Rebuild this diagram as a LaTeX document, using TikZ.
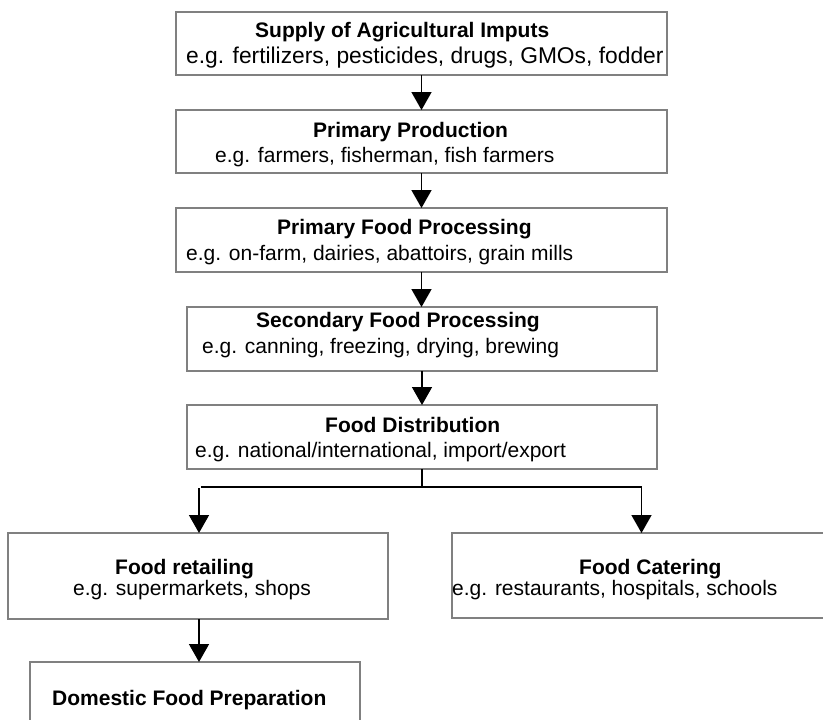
\documentclass[tikz,border=0pt]{standalone}
\usepackage{fontspec}
\setmainfont{Liberation Sans}
\usetikzlibrary{arrows.meta}
\definecolor{bordergray}{RGB}{128,128,128}
\begin{document}
\begin{tikzpicture}[x=1pt,y=-1pt,
  box/.style={draw=bordergray, line width=2pt, inner sep=0pt, outer sep=0pt},
  ttl/.style={anchor=base west, inner sep=0pt, font=\fontsize{21}{25}\selectfont\bfseries},
  sub/.style={anchor=base west, inner sep=0pt, font=\fontsize{21}{25}\selectfont},
  arr/.style={line width=1.6pt, -{Triangle[length=18pt,width=20pt]}},
  ln/.style={line width=1.6pt}]
\useasboundingbox (0,0) rectangle (823,720);
\clip (0,0) rectangle (823,720);
% boxes
\node[box, minimum width=491pt, minimum height=63pt] (b1) at (421.5,43.5) {};
\node[box, minimum width=491pt, minimum height=63pt] (b2) at (421.5,141.5) {};
\node[box, minimum width=491pt, minimum height=64pt] (b3) at (421.5,240) {};
\node[box, minimum width=470pt, minimum height=64pt] (b4) at (422,339) {};
\node[box, minimum width=470pt, minimum height=64pt] (b5) at (422,437) {};
\node[box, minimum width=380pt, minimum height=86pt] (b6) at (198,576) {};
\node[box, minimum width=448pt, minimum height=85pt] (b7) at (676,575.5) {};
\node[box, minimum width=330pt, minimum height=98pt] (b8) at (195,711) {};
% texts
\node[ttl] (t1) at (255,37) {Supply of Agricultural Imputs};
\node[sub, font=\fontsize{22.8}{25}\selectfont] (s1) at (186,63) {e.g. fertilizers, pesticides, drugs, GMOs, fodder};
\node[ttl] (t2) at (313,137) {Primary Production};
\node[sub] (s2) at (215,162) {e.g. farmers, fisherman, fish farmers};
\node[ttl] (t3) at (277,234) {Primary Food Processing};
\node[sub] (s3) at (186,260) {e.g. on-farm, dairies, abattoirs, grain mills};
\node[ttl] (t4) at (256,327) {Secondary Food Processing};
\node[sub] (s4) at (202,353) {e.g. canning, freezing, drying, brewing};
\node[ttl] (t5) at (325,432) {Food Distribution};
\node[sub] (s5) at (195,457) {e.g. national/international, import/export};
\node[ttl] (t6) at (115,574) {Food retailing};
\node[sub] (s6) at (73,595) {e.g. supermarkets, shops};
\node[ttl] (t7) at (579,574) {Food Catering};
\node[sub] (s7) at (452,595) {e.g. restaurants, hospitals, schools};
\node[ttl] (t8) at (52,705) {Domestic Food Preparation};
% connectors
\draw[arr] (b1.south) -- (b1.south |- b2.north);
\draw[arr] (b2.south) -- (b2.south |- b3.north);
\draw[arr] (b3.south) -- (b3.south |- b4.north);
\draw[arr] (b4.south) -- (b4.south |- b5.north);
\coordinate (jm) at (422,487);
\coordinate (jl) at (201,487);
\coordinate (jr) at (641.5,487);
\coordinate (al) at (199,488);
\draw[ln] (b5.south) -- (jm);
\draw[ln] (jl) -- (jr);
\draw[arr] (al) -- (al |- b6.north);
\draw[arr] (jr) -- (jr |- b7.north);
\draw[arr] (b6.south -| al) -- (al |- b8.north);
\end{tikzpicture}
\end{document}
